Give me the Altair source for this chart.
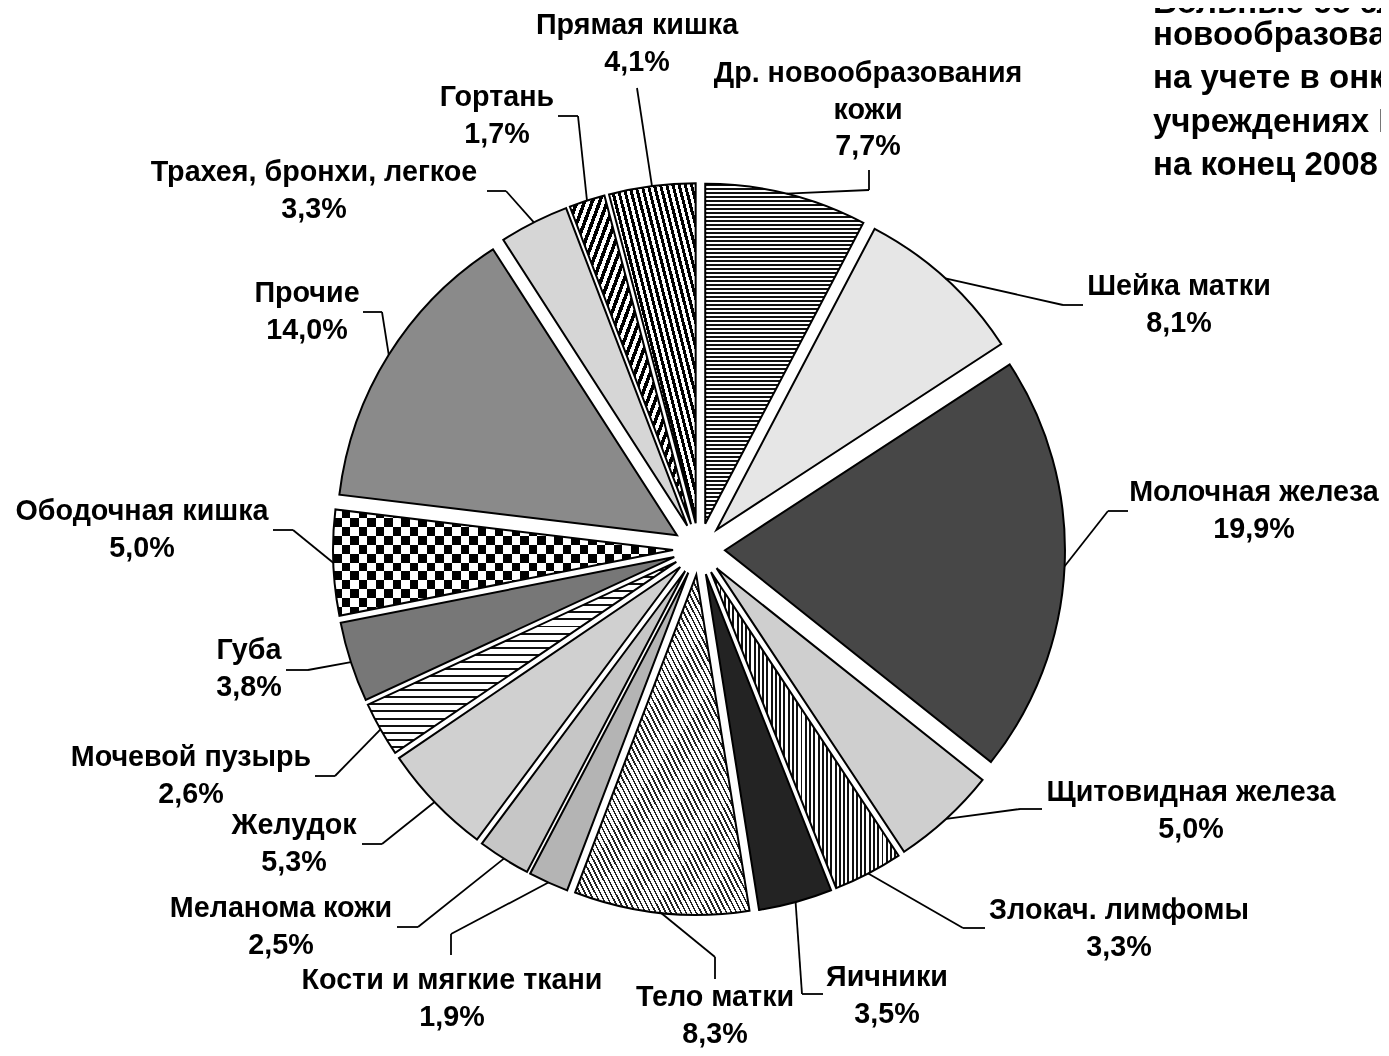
import altair as alt
import pandas as pd

# ---------------- data ----------------
names = ["Др. новообразования\nкожи", "Шейка матки", "Молочная железа",
         "Щитовидная железа", "Злокач. лимфомы", "Яичники", "Тело матки",
         "Кости и мягкие ткани", "Меланома кожи", "Желудок", "Мочевой пузырь",
         "Губа", "Ободочная кишка", "Прочие", "Трахея, бронхи, легкое",
         "Гортань", "Прямая кишка"]
values = [7.7, 8.1, 19.9, 5.0, 3.3, 3.5, 8.3, 1.9, 2.5, 5.3, 2.6, 3.8, 5.0,
          14.0, 3.3, 1.7, 4.1]
title_lines = ["Больные со злокачественными", "новообразованиями, состоящие",
               "на учете в онкологических", "учреждениях России",
               "на конец 2008 года"]

# ---------------- layout (page pixels) ----------------
M = 8  # page margin
CX, CY = 699 - M, 549 - M
EXPLODE = 26
R = 340
FONT = "Liberation Sans"
LABEL_SIZE = 28.7
LINE_H = 36.5

label_x = [868, 1179, 1254, 1191, 1119, 887, 715, 452, 281, 294, 191, 249, 142, 307, 314, 497, 637]
label_y = [73, 286, 492, 792, 910, 977, 997, 980, 908, 825, 757, 650, 511, 293, 172, 97, 25]
lead_ax = [869, 1083, 1128, 1042, 985, 823, 715, 451, 397, 362, 315, 286, 273, 363, 487, 558, 637]
lead_ay = [170, 305, 511, 809, 928, 994, 979, 955, 927, 844, 776, 670, 530, 312, 191, 116, 88]
lead_bx = [869, 1063, 1108, 1020, 963, 802, 715, 451, 418, 382, 335, 308, 293, 382, 506, 578, 637]
lead_by = [190, 305, 511, 809, 928, 994, 957, 934, 927, 844, 776, 670, 530, 312, 191, 116, 88]
TITLE_X = 1153
title_base = [13, 45, 88, 132, 175]


def stripes(n, frac, dark, light, x1, y1, x2, y2):
    stops = []
    for i in range(n):
        a, b, c = i / n, (i + frac) / n, (i + 1) / n
        stops += [{"offset": round(a, 5), "color": dark},
                  {"offset": round(b, 5), "color": dark},
                  {"offset": round(b, 5), "color": light},
                  {"offset": round(c, 5), "color": light}]
    return {"gradient": "linear", "x1": x1, "y1": y1, "x2": x2, "y2": y2,
            "stops": stops}


fills = [
    stripes(85, 0.5, "#111111", "#ffffff", 0, 0, 0, 1),
    "#e6e6e6",
    "#474747",
    "#cfcfcf",
    stripes(44, 0.45, "#111111", "#ffffff", 0, 0, 1, 0),
    "#232323",
    stripes(69, 0.35, "#222222", "#ffffff", 0, 1, 1, 0),
    "#b4b4b4",
    "#c6c6c6",
    "#d0d0d0",
    stripes(27, 0.28, "#111111", "#ffffff", 0, 0, 0, 1),
    "#777777",
    stripes(6, 0.5, "#000000", "#ffffff", 0, 0, 0, 1),
    "#8a8a8a",
    "#d6d6d6",
    stripes(32, 0.5, "#000000", "#ffffff", 0, 0, 1, 1),
    stripes(28, 0.5, "#000000", "#ffffff", 0, 1, 1, 0),
]
CHECKER_IDX = 12
checker_overlay = stripes(20, 0.5, "#ffffff", "#000000", 0, 0, 1, 0)

# ---------------- tables ----------------
df = pd.DataFrame({
    "name": names, "value": values, "order": list(range(len(names))),
    "ax": [v - M for v in lead_ax], "ay": [v - M for v in lead_ay],
    "bx": [v - M for v in lead_bx], "by": [v - M for v in lead_by],
})

rows = []
for i, nm in enumerate(names):
    parts = nm.split("\n")
    for j, p in enumerate(parts):
        rows.append({"order": i, "idx": j, "kind": "name", "txt": p,
                     "value": values[i], "lx": label_x[i] - M, "ly": label_y[i] - M})
    rows.append({"order": i, "idx": len(parts), "kind": "pct", "txt": "",
                 "value": values[i], "lx": label_x[i] - M, "ly": label_y[i] - M})
lab = pd.DataFrame(rows)

tdf = pd.DataFrame({"line": title_lines, "ty": [b - M for b in title_base]})

base = alt.Chart(df).transform_joinaggregate(
    total="sum(value)"
).transform_window(
    cum="sum(value)", sort=[alt.SortField("order")], frame=[None, 0]
).transform_calculate(
    t0="(datum.cum - datum.value) / datum.total * 2 * PI",
    t1="datum.cum / datum.total * 2 * PI",
).transform_calculate(
    mid="(datum.t0 + datum.t1) / 2",
).transform_calculate(
    px=f"{CX} + {EXPLODE} * sin(datum.mid)",
    py=f"{CY} - {EXPLODE} * cos(datum.mid)",
    ex=f"{CX} + {EXPLODE + R} * sin(datum.mid)",
    ey=f"{CY} - {EXPLODE + R} * cos(datum.mid)",
)

arc_enc = dict(
    x=alt.X("px:Q", scale=None, axis=None),
    y=alt.Y("py:Q", scale=None, axis=None),
    theta=alt.Theta("t0:Q", scale=None, stack=False),
    theta2="t1:Q",
)

layers = []
for i, f in enumerate(fills):
    layers.append(
        base.transform_filter(f"datum.order == {i}")
        .mark_arc(radius=R, fill=f, strokeWidth=0)
        .encode(**arc_enc)
    )
    if i == CHECKER_IDX:
        layers.append(
            base.transform_filter(f"datum.order == {i}")
            .mark_arc(radius=R, fill=checker_overlay, strokeWidth=0, blend="difference")
            .encode(**arc_enc)
        )

# outlines
layers.append(
    base.mark_arc(radius=R, fill="transparent", stroke="black", strokeWidth=2)
    .encode(**arc_enc)
)

# leader lines
layers.append(
    base.mark_rule(color="black", strokeWidth=1.8).encode(
        x=alt.X("ax:Q", scale=None, axis=None), y=alt.Y("ay:Q", scale=None, axis=None),
        x2="bx:Q", y2="by:Q")
)
layers.append(
    base.mark_rule(color="black", strokeWidth=1.8).encode(
        x=alt.X("bx:Q", scale=None, axis=None), y=alt.Y("by:Q", scale=None, axis=None),
        x2="ex:Q", y2="ey:Q")
)

# labels
labels = alt.Chart(lab).transform_calculate(
    text="datum.kind == 'pct' ? replace(format(datum.value, '.1f'), '.', ',') + '%' : datum.txt",
    ty=f"datum.ly + datum.idx * {LINE_H}",
).mark_text(font=FONT, fontSize=LABEL_SIZE, fontWeight="bold", align="center",
            baseline="middle", color="black").encode(
    x=alt.X("lx:Q", scale=None, axis=None),
    y=alt.Y("ty:Q", scale=None, axis=None),
    text="text:N",
)
layers.append(labels)

title = alt.Chart(tdf).transform_calculate(
    tx=f"{TITLE_X - M}",
).mark_text(font=FONT, fontSize=33, fontWeight="bold", align="left",
            baseline="alphabetic", color="black").encode(
    x=alt.X("tx:Q", scale=None, axis=None),
    y=alt.Y("ty:Q", scale=None, axis=None),
    text="line:N",
)
layers.append(title)

chart = alt.layer(*layers).properties(
    width=1373, height=1040,
    autosize=alt.AutoSizeParams(type="none"),
    padding=0,
).configure_view(strokeWidth=0)

chart.save("out.html", embed_options={"renderer": "svg", "actions": False})
